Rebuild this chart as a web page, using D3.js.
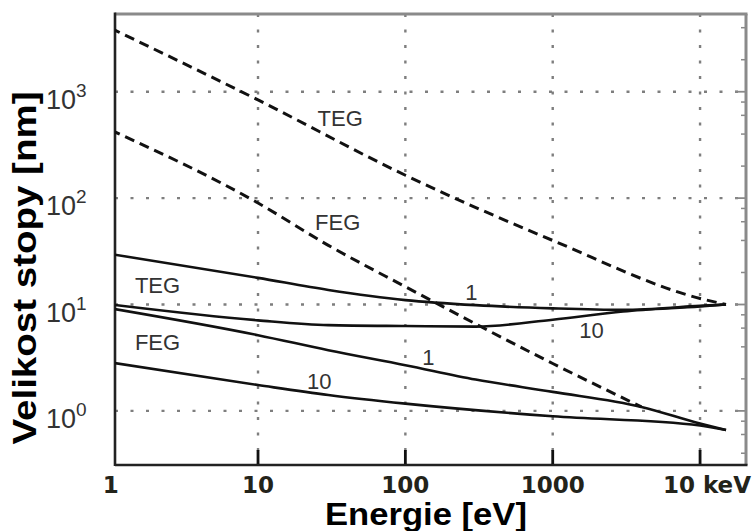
<!DOCTYPE html>
<html>
<head>
<meta charset="utf-8">
<script src="https://cdn.jsdelivr.net/npm/d3@7"></script>
<style>
  body { margin: 0; background: #fff; }
  svg { display: block; }
</style>
</head>
<body>
<div id="chart"></div>
<script>
// values: [energy eV, spot size nm]
const teg_dashed = [[1, 3960], [10, 837], [100, 164], [1000, 40], [10000, 11.4], [15000, 10]];
const feg_dashed = [[1, 437], [10, 90], [30, 36], [100, 14.7], [1000, 2.79], [4000, 1.09]];
const teg_1 = [[1, 29.8], [10, 17.8], [30, 13.7], [100, 11.0], [300, 9.86], [1000, 9.2], [3000, 8.9], [10000, 9.7], [15000, 10]];
const teg_10 = [[1, 10.0], [10, 7.1], [30, 6.4], [100, 6.27], [300, 6.2], [1000, 7.2], [3000, 8.6], [10000, 9.6], [15000, 10]];
const feg_1 = [[1, 9.2], [10, 5.15], [30, 3.72], [100, 2.69], [300, 1.97], [1000, 1.51], [4000, 1.09], [10000, 0.76], [15000, 0.66]];
const feg_10 = [[1, 2.85], [10, 1.75], [30, 1.41], [100, 1.17], [1000, 0.89], [10000, 0.73], [15000, 0.66]];

const x_ticks = [1, 10, 100, 1000, 10000];
const x_tick_labels = ["1", "10", "100", "1000", "10 keV"];
const y_ticks = [1, 10, 100, 1000];
const y_exponents = ["0", "1", "2", "3"];

// curve annotations, placed in data space
const annotations = [
  {text: "TEG", at: [36.1, 476]},
  {text: "FEG", at: [34.7, 50.1]},
  {text: "TEG", at: [2.08, 12.9]},
  {text: "FEG", at: [2.08, 3.72]},
  {text: "1",   at: [280, 11.0]},
  {text: "10",  at: [1833, 4.83]},
  {text: "1",   at: [143, 2.69]},
  {text: "10",  at: [26.0, 1.6]}
];

const __CONFIG__ = {
  width: 754,
  height: 531,
  left: 115,
  right: 746,
  top: 14,
  bottom: 465,
  x_domain: [1.07, 20500],
  y_domain: [0.31, 5380]
};

const cfg = __CONFIG__;
const svg = d3.select("#chart").append("svg")
  .attr("width", cfg.width)
  .attr("height", cfg.height);

const x = d3.scaleLog().domain(cfg.x_domain).range([cfg.left, cfg.right]);
const y = d3.scaleLog().domain(cfg.y_domain).range([cfg.bottom, cfg.top]);

svg.append("defs").append("clipPath").attr("id", "plot-clip")
  .append("rect")
    .attr("x", cfg.left).attr("y", cfg.top)
    .attr("width", cfg.right - cfg.left).attr("height", cfg.bottom - cfg.top);

// dotted grid
const grid = svg.append("g").attr("stroke", "#7e7e7e").attr("stroke-width", 2.4)
  .attr("stroke-dasharray", "3,12.5");
grid.selectAll("line.vgrid")
  .data(x_ticks.slice(1))
  .join("line")
    .classed("vgrid", true)
    .attr("x1", d => x(d)).attr("x2", d => x(d))
    .attr("y1", cfg.top).attr("y2", cfg.bottom);
grid.selectAll("line.hgrid")
  .data(y_ticks)
  .join("line")
    .classed("hgrid", true)
    .attr("x1", cfg.left).attr("x2", cfg.right)
    .attr("y1", d => y(d)).attr("y2", d => y(d));

// right side ticks (major + even minors)
const minor = [];
for (const d of [0.1, 1, 10, 100, 1000]) {
  for (const m of [2, 4, 6, 8]) {
    const v = d * m;
    if (v > cfg.y_domain[0] && v < cfg.y_domain[1]) minor.push(v);
  }
}
svg.append("g").selectAll("line")
  .data(minor)
  .join("line")
    .attr("x1", cfg.right - 5).attr("x2", cfg.right)
    .attr("y1", d => y(d)).attr("y2", d => y(d))
    .attr("stroke", "#888").attr("stroke-width", 1.5);
svg.append("g").selectAll("line")
  .data(y_ticks)
  .join("line")
    .attr("x1", cfg.right - 11).attr("x2", cfg.right)
    .attr("y1", d => y(d)).attr("y2", d => y(d))
    .attr("stroke", "#888").attr("stroke-width", 1.8);

// bottom ticks
svg.append("g").selectAll("line")
  .data(x_ticks.slice(1))
  .join("line")
    .attr("x1", d => x(d)).attr("x2", d => x(d))
    .attr("y1", cfg.bottom - 15).attr("y2", cfg.bottom)
    .attr("stroke", "#111").attr("stroke-width", 2.8);

// frame
svg.append("line").attr("x1", cfg.left).attr("x2", cfg.right + 1.5)
  .attr("y1", cfg.top).attr("y2", cfg.top)
  .attr("stroke", "#8a8a8a").attr("stroke-width", 3);
svg.append("line").attr("x1", cfg.right).attr("x2", cfg.right)
  .attr("y1", cfg.top).attr("y2", cfg.bottom)
  .attr("stroke", "#8a8a8a").attr("stroke-width", 3);
svg.append("line").attr("x1", cfg.left).attr("x2", cfg.left)
  .attr("y1", cfg.top - 1.5).attr("y2", cfg.bottom + 1)
  .attr("stroke", "#222").attr("stroke-width", 2.6);
svg.append("line").attr("x1", cfg.left).attr("x2", cfg.right + 1.5)
  .attr("y1", cfg.bottom).attr("y2", cfg.bottom)
  .attr("stroke", "#222").attr("stroke-width", 2.6);

// curves
const line = d3.line()
  .x(d => x(d[0]))
  .y(d => y(d[1]))
  .curve(d3.curveMonotoneX);

const series = [
  {values: teg_dashed, dashed: true},
  {values: feg_dashed, dashed: true},
  {values: teg_1, dashed: false},
  {values: teg_10, dashed: false},
  {values: feg_1, dashed: false},
  {values: feg_10, dashed: false}
];

svg.append("g").attr("clip-path", "url(#plot-clip)")
  .selectAll("path")
  .data(series)
  .join("path")
    .attr("d", d => line(d.values))
    .attr("fill", "none")
    .attr("stroke", "#111")
    .attr("stroke-width", d => d.dashed ? 3 : 2.6)
    .attr("stroke-dasharray", d => d.dashed ? "10,6" : null);

// annotations
svg.append("g")
  .attr("font-family", "'Liberation Sans', Arial, sans-serif")
  .attr("font-size", 22)
  .attr("fill", "#333")
  .attr("text-anchor", "middle")
  .selectAll("text")
  .data(annotations)
  .join("text")
    .attr("x", d => x(d.at[0]))
    .attr("y", d => y(d.at[1]))
    .text(d => d.text);

// x tick labels
svg.append("g")
  .attr("font-family", "'DejaVu Sans', Verdana, sans-serif")
  .attr("font-weight", "bold")
  .attr("font-size", 23)
  .attr("fill", "#23231a")
  .selectAll("text")
  .data(x_ticks)
  .join("text")
    .attr("x", (d, i) => i == x_ticks.length - 1 ? 751 : x(d))
    .attr("y", 493)
    .attr("text-anchor", (d, i) => i == x_ticks.length - 1 ? "end" : "middle")
    .text((d, i) => x_tick_labels[i]);

// y tick labels with superscript exponents
const ylab = svg.append("g")
  .attr("font-family", "'Liberation Sans', Arial, sans-serif")
  .attr("fill", "#333")
  .selectAll("text")
  .data(y_ticks)
  .join("text")
    .attr("x", 46)
    .attr("y", d => y(d) + 17)
    .attr("font-size", 27);
ylab.append("tspan").text("10");
ylab.append("tspan")
  .attr("font-size", 19)
  .attr("dy", -12)
  .text((d, i) => y_exponents[i]);

// axis titles
svg.append("text")
  .attr("x", 426).attr("y", 525)
  .attr("text-anchor", "middle")
  .attr("font-family", "'Liberation Sans', Arial, sans-serif")
  .attr("font-weight", "bold")
  .attr("font-size", 31)
  .attr("textLength", 202)
  .attr("lengthAdjust", "spacingAndGlyphs")
  .attr("fill", "#000")
  .text("Energie [eV]");

svg.append("text")
  .attr("transform", "translate(36,268) rotate(-90)")
  .attr("text-anchor", "middle")
  .attr("font-family", "'Liberation Sans', Arial, sans-serif")
  .attr("font-weight", "bold")
  .attr("font-size", 33)
  .attr("textLength", 353)
  .attr("lengthAdjust", "spacingAndGlyphs")
  .attr("fill", "#000")
  .text("Velikost stopy [nm]");
</script>
</body>
</html>
